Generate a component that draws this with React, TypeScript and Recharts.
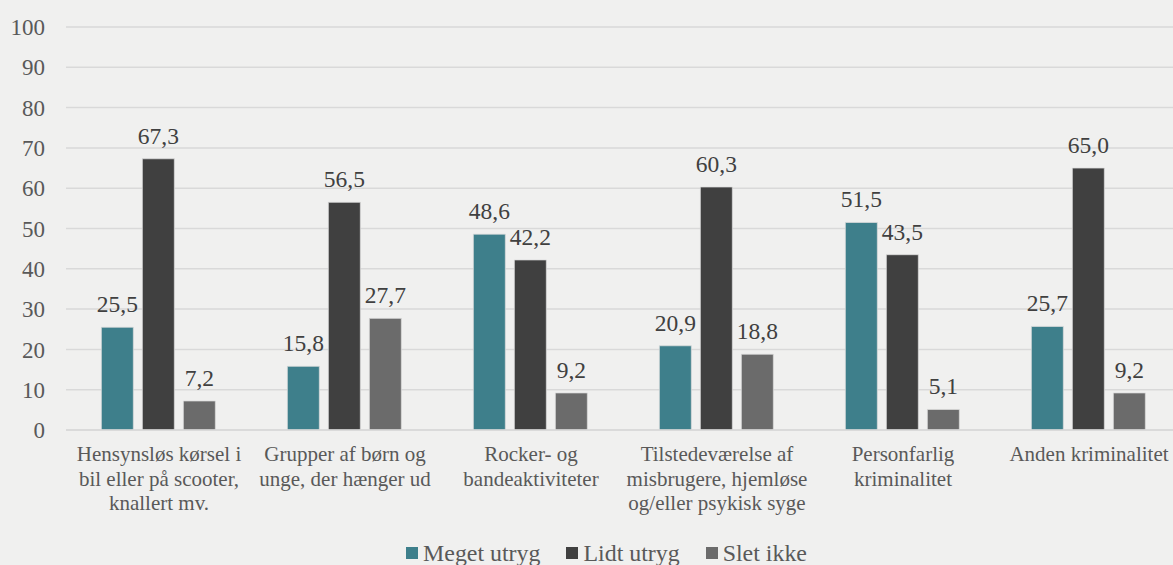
import { BarChart, Bar, CartesianGrid, XAxis, YAxis, Legend, LabelList } from "recharts";

const categories = [
  "Hensynsløs kørsel i\nbil eller på scooter,\nknallert mv.",
  "Grupper af børn og\nunge, der hænger ud",
  "Rocker- og\nbandeaktiviteter",
  "Tilstedeværelse af\nmisbrugere, hjemløse\nog/eller psykisk syge",
  "Personfarlig\nkriminalitet",
  "Anden kriminalitet",
];
const megetUtryg = [25.5, 15.8, 48.6, 20.9, 51.5, 25.7];
const lidtUtryg = [67.3, 56.5, 42.2, 60.3, 43.5, 65.0];
const sletIkke = [7.2, 27.7, 9.2, 18.8, 5.1, 9.2];
const yTicks = [0, 10, 20, 30, 40, 50, 60, 70, 80, 90, 100];

const series = [
  { key: "meget", name: "Meget utryg", color: "#3e7f8b" },
  { key: "lidt", name: "Lidt utryg", color: "#404040" },
  { key: "slet", name: "Slet ikke", color: "#6b6b6b" },
];

const data = categories.map((c, i) => ({
  name: c,
  meget: megetUtryg[i],
  lidt: lidtUtryg[i],
  slet: sletIkke[i],
}));

const font = "'Liberation Serif', 'Times New Roman', serif";

function CategoryTick(props: any) {
  const { x, y, payload } = props;
  const lines = String(payload.value).split("\n");
  return (
    <text x={x} y={y} textAnchor="middle" fill="#595959" fontSize={21} fontFamily={font}>
      {lines.map((l, i) => (
        <tspan key={i} x={x} dy={i === 0 ? 31 : 24.5}>
          {l}
        </tspan>
      ))}
    </text>
  );
}

function LegendContent() {
  return (
    <div
      style={{
        display: "flex",
        justifyContent: "center",
        paddingLeft: 40,
        fontFamily: font,
        fontSize: 23.9,
        lineHeight: "28px",
        height: 28,
        color: "#595959",
      }}
    >
      {series.map((s, i) => (
        <div key={s.key} style={{ display: "flex", alignItems: "center", marginLeft: i === 0 ? 0 : 26 }}>
          <span style={{ width: 12, height: 12, background: s.color, display: "inline-block", marginRight: 5 }} />
          {s.name}
        </div>
      ))}
    </div>
  );
}

const fmt = (v: any) => Number(v).toFixed(1).replace(".", ",");

export default function App() {
  return (
    <div style={{ position: "absolute", top: 0, left: 0, width: 1173, height: 565, background: "#f0f0ef", overflow: "hidden" }}>
      <style>{"body{margin:0;}"}</style>
      <BarChart
        width={1173}
        height={565}
        data={data}
        margin={{ top: 27, right: -9, left: 0, bottom: 0 }}
        barCategoryGap="19%"
        barGap={9}
      >
        <CartesianGrid vertical={false} stroke="#d9d9d9" strokeWidth={1.5} />
        <XAxis
          dataKey="name"
          tickLine={false}
          tickSize={0}
          tickMargin={0}
          axisLine={{ stroke: "#d9d9d9", strokeWidth: 1.5 }}
          interval={0}
          height={107}
          tick={<CategoryTick />}
        />
        <YAxis
          domain={[0, 100]}
          ticks={yTicks}
          width={66}
          tickLine={false}
          tickSize={0}
          axisLine={false}
          tickMargin={21}
          tick={{ fill: "#595959", fontSize: 23, fontFamily: font }}
        />
        <Legend
          verticalAlign="bottom"
          content={<LegendContent />}
          wrapperStyle={{ bottom: -2, left: 0, width: 1173 }}
        />
        {series.map((s) => (
          <Bar
            key={s.key}
            dataKey={s.key}
            name={s.name}
            fill={s.color}
            stroke="#dcdcdc"
            strokeWidth={0.75}
            isAnimationActive={false}
          >
            <LabelList
              dataKey={s.key}
              position="top"
              offset={15}
              formatter={fmt}
              fill="#404040"
              fontSize={23.5}
              fontFamily={font}
            />
          </Bar>
        ))}
      </BarChart>
    </div>
  );
}
